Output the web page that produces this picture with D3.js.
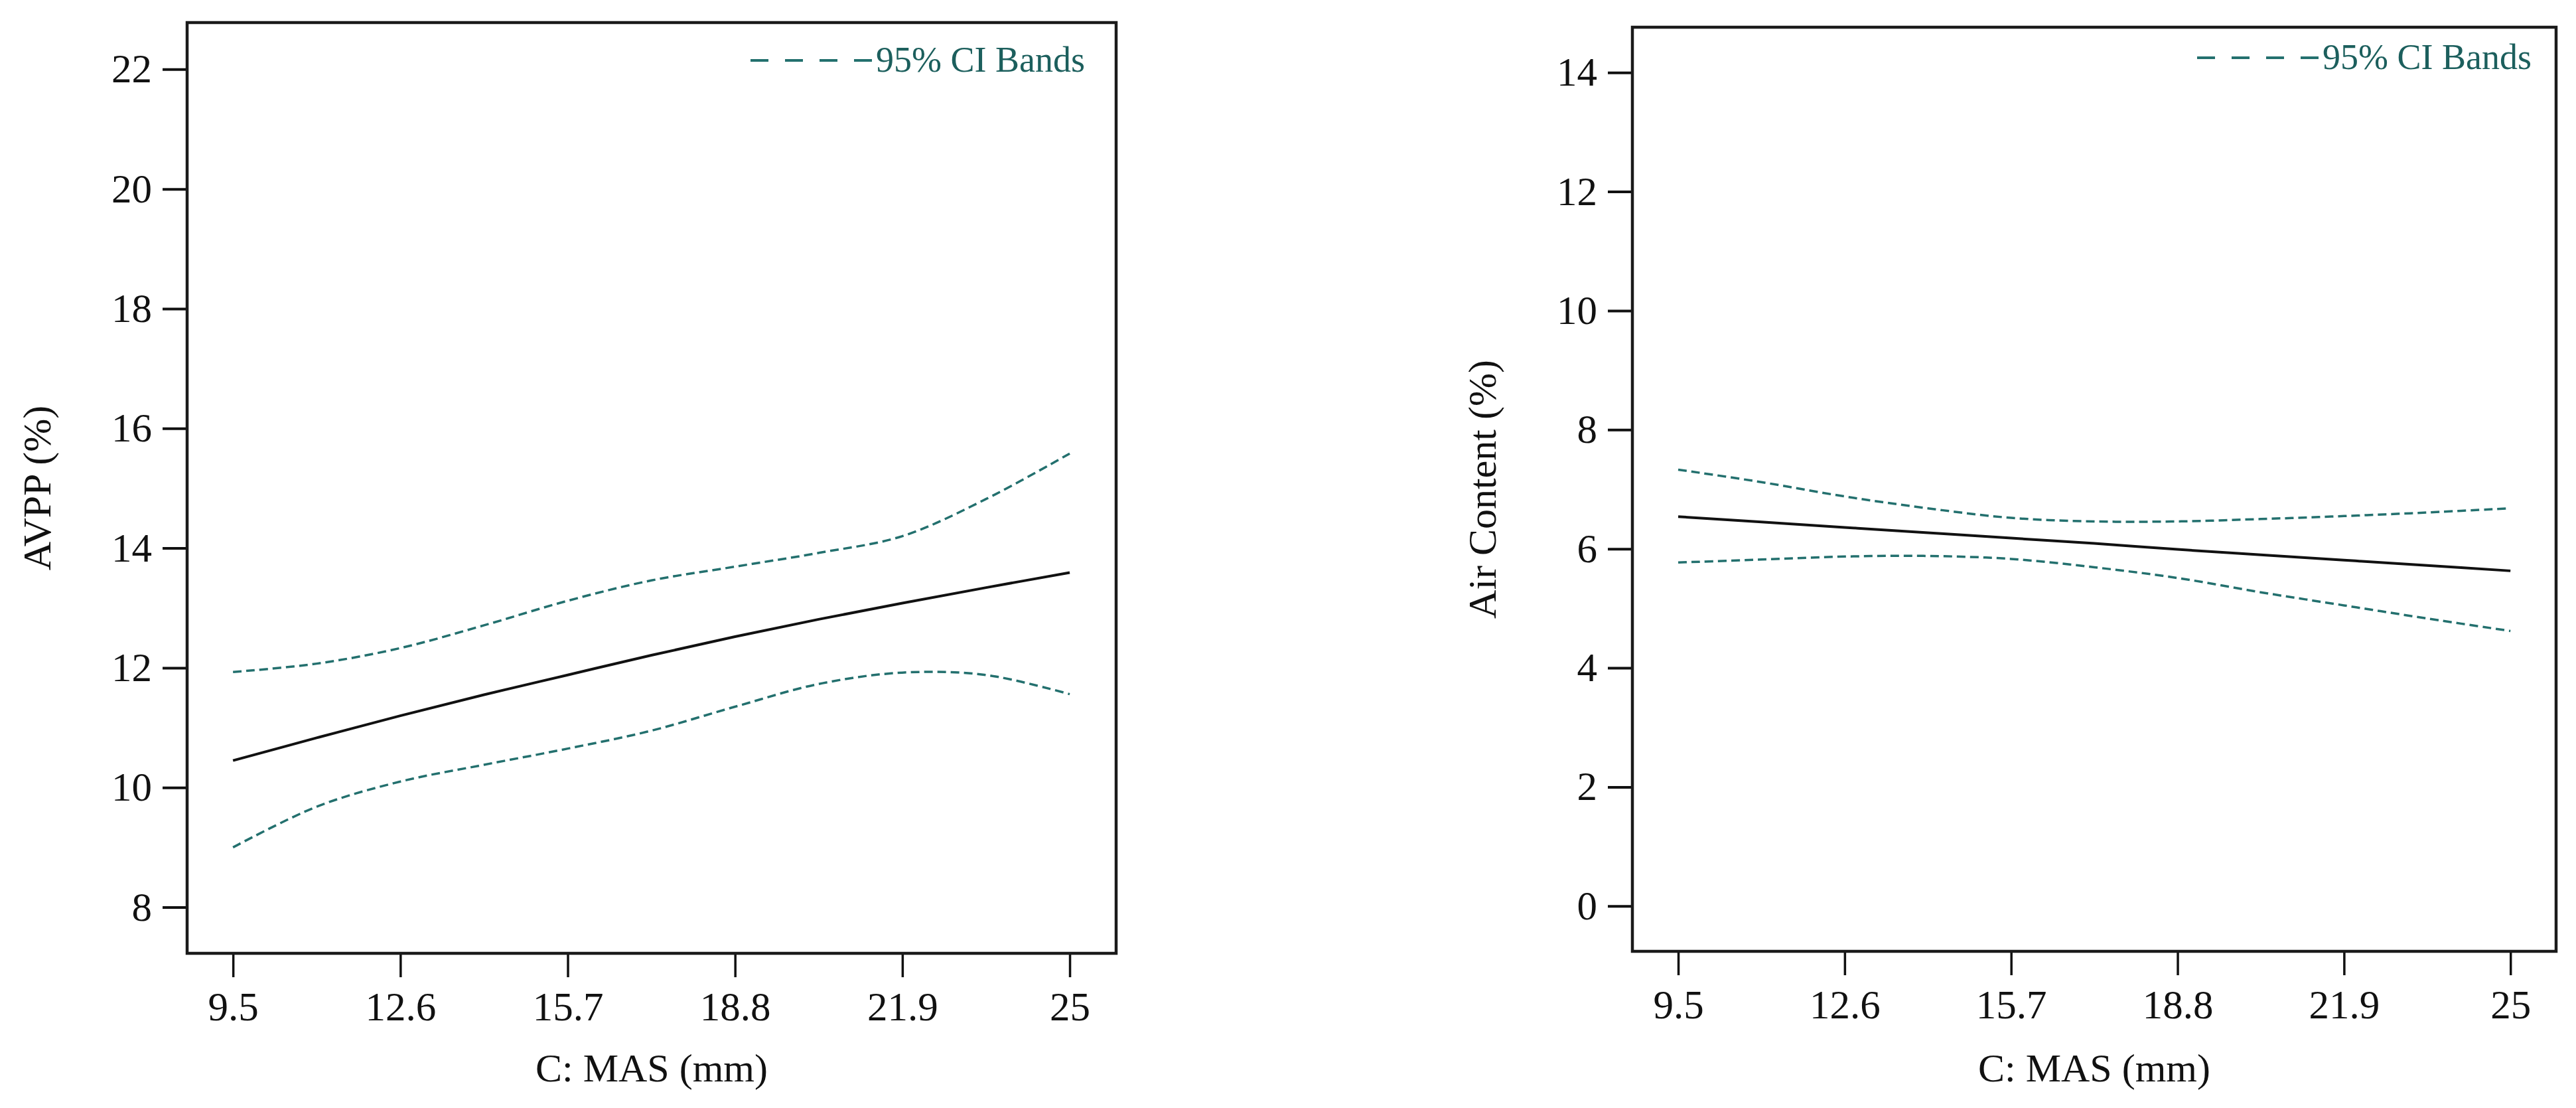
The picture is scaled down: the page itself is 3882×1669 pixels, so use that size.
<!DOCTYPE html>
<html>
<head>
<meta charset="utf-8">
<script src="https://cdn.jsdelivr.net/npm/d3@7"></script>
<style>
  body { margin: 0; background: #fff; }
  svg { display: block; }
  text { font-family: "Liberation Serif", "Times New Roman", serif; }
</style>
</head>
<body>
<svg id="chart" width="3882" height="1669"></svg>
<script>
// sample positions along C: MAS (mm)
const masPoints = [9.5, 11.05, 12.6, 14.15, 15.7, 17.25, 18.8, 20.35, 21.9, 23.45, 25];
const xTicks = [9.5, 12.6, 15.7, 18.8, 21.9, 25];

// AVPP (%)
const avppFit   = [10.45, 10.83, 11.2, 11.55, 11.88, 12.21, 12.52, 12.81, 13.08, 13.34, 13.59];
const avppUpper = [11.93, 12.07, 12.33, 12.71, 13.12, 13.46, 13.69, 13.92, 14.2, 14.82, 15.58];
const avppLower = [9.0, 9.68, 10.1, 10.38, 10.65, 10.95, 11.35, 11.73, 11.92, 11.88, 11.56];
const avppTicks = [8, 10, 12, 14, 16, 18, 20, 22];

// Air Content (%)
const airFit   = [6.54, 6.45, 6.36, 6.27, 6.18, 6.09, 5.99, 5.9, 5.81, 5.72, 5.63];
const airUpper = [7.33, 7.12, 6.88, 6.68, 6.52, 6.46, 6.46, 6.5, 6.55, 6.61, 6.68];
const airLower = [5.77, 5.82, 5.87, 5.88, 5.83, 5.69, 5.51, 5.27, 5.05, 4.83, 4.62];
const airTicks = [0, 2, 4, 6, 8, 10, 12, 14];

const bandColor = "#23706e";
const legendColor = "#1c5f5d";
const ink = "#111";

const panels = [
  { left: 282, right: 1682, top: 34, bottom: 1436,
    xDomain: [8.65, 25.86], yDomain: [7.23, 22.78],
    fit: avppFit, upper: avppUpper, lower: avppLower, yTicks: avppTicks,
    yTitle: "AVPP (%)", legendRight: 1635, legendBase: 108 },
  { left: 2460, right: 3852, top: 41, bottom: 1433,
    xDomain: [8.647, 25.85], yDomain: [-0.76, 14.76],
    fit: airFit, upper: airUpper, lower: airLower, yTicks: airTicks,
    yTitle: "Air Content (%)", legendRight: 3815, legendBase: 104 }
];

const svg = d3.select("#chart");

panels.forEach(p => {
  const x = d3.scaleLinear().domain(p.xDomain).range([p.left, p.right]);
  const y = d3.scaleLinear().domain(p.yDomain).range([p.bottom, p.top]);
  const g = svg.append("g");

  // y axis
  const yAxis = g.append("g")
    .attr("transform", `translate(${p.left},0)`)
    .call(d3.axisLeft(y).tickValues(p.yTicks).tickFormat(d3.format("d"))
      .tickSize(37).tickPadding(16).tickSizeOuter(0));
  yAxis.select(".domain").remove();
  yAxis.selectAll(".tick line").attr("stroke", ink).attr("stroke-width", 4);
  yAxis.selectAll(".tick text").attr("fill", ink).style("font-size", "61px")
    .style("font-family", '"Liberation Serif", serif');

  // x axis
  const xAxis = g.append("g")
    .attr("transform", `translate(0,${p.bottom})`)
    .call(d3.axisBottom(x).tickValues(xTicks).tickFormat(d => String(d))
      .tickSize(36).tickPadding(22).tickSizeOuter(0));
  xAxis.select(".domain").remove();
  xAxis.selectAll(".tick line").attr("stroke", ink).attr("stroke-width", 3.5);
  xAxis.selectAll(".tick text").attr("fill", ink).style("font-size", "61px")
    .style("font-family", '"Liberation Serif", serif');

  // frame
  g.append("rect")
    .attr("x", p.left).attr("y", p.top)
    .attr("width", p.right - p.left).attr("height", p.bottom - p.top)
    .attr("fill", "none").attr("stroke", "#1a1a1a").attr("stroke-width", 4.5);

  const line = vals => d3.line()
    .x((d, i) => x(masPoints[i]))
    .y(d => y(d))
    .curve(d3.curveCatmullRom.alpha(0.5))(vals);

  g.append("path").attr("d", line(p.upper))
    .attr("fill", "none").attr("stroke", bandColor)
    .attr("stroke-width", 3.5).attr("stroke-dasharray", "13,7");
  g.append("path").attr("d", line(p.lower))
    .attr("fill", "none").attr("stroke", bandColor)
    .attr("stroke-width", 3.5).attr("stroke-dasharray", "13,7");
  g.append("path").attr("d", line(p.fit))
    .attr("fill", "none").attr("stroke", ink).attr("stroke-width", 4);

  // legend
  const legText = g.append("text")
    .attr("x", p.legendRight).attr("y", p.legendBase)
    .attr("text-anchor", "end").attr("fill", legendColor)
    .style("font-size", "54px").text("95% CI Bands");
  const tw = legText.node().getComputedTextLength();
  const lx1 = p.legendRight - tw - 6;
  g.append("line")
    .attr("x1", lx1 - 183).attr("x2", lx1)
    .attr("y1", p.legendBase - 17).attr("y2", p.legendBase - 17)
    .attr("stroke", bandColor).attr("stroke-width", 4)
    .attr("stroke-dasharray", "27,25");

  // axis titles
  g.append("text")
    .attr("x", (p.left + p.right) / 2).attr("y", 1629)
    .attr("text-anchor", "middle").attr("fill", ink)
    .style("font-size", "60px").text("C: MAS (mm)");
  g.append("text")
    .attr("transform", `translate(${p.left - 206},${(p.top + p.bottom) / 2}) rotate(-90)`)
    .attr("text-anchor", "middle").attr("fill", ink)
    .style("font-size", "60px").text(p.yTitle);
});
</script>
</body>
</html>
